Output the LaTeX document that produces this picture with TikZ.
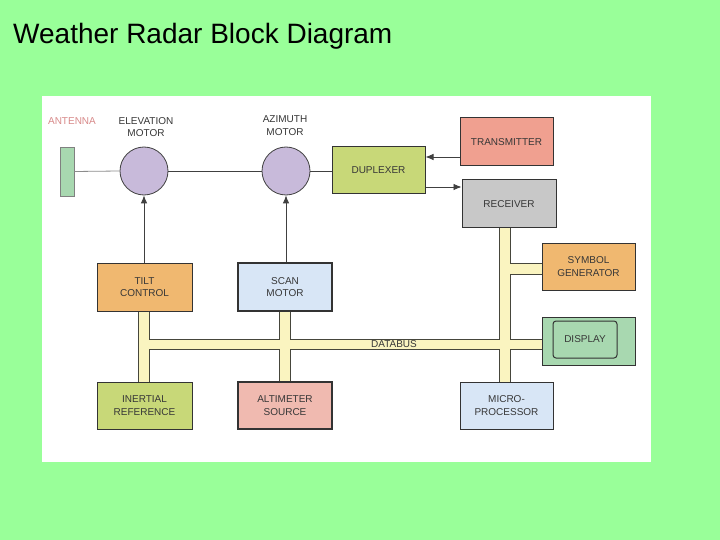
\documentclass[tikz,border=0pt]{standalone}
\usepackage{fontspec}
\setmainfont{Liberation Sans}
\usetikzlibrary{arrows.meta}
\definecolor{bggreen}{RGB}{153,255,153}
\definecolor{antgreen}{RGB}{168,216,176}
\definecolor{lav}{RGB}{200,186,218}
\definecolor{ygreen}{RGB}{200,216,120}
\definecolor{salmon}{RGB}{240,160,144}
\definecolor{rgrey}{RGB}{200,200,200}
\definecolor{orng}{RGB}{240,184,112}
\definecolor{lblue}{RGB}{216,230,246}
\definecolor{pinkb}{RGB}{240,186,176}
\definecolor{busy}{RGB}{250,244,192}
\definecolor{busline}{RGB}{70,70,60}
\definecolor{txt}{RGB}{55,55,55}
\definecolor{antred}{RGB}{216,138,138}
\begin{document}
\begin{tikzpicture}[x=1pt,y=-1pt,
  box/.style={draw=black!80, line width=1pt, inner sep=0pt, align=center,
    text=txt, font=\fontsize{10}{12.5}\selectfont},
  motor/.style={circle, draw=black!75, line width=0.8pt, fill=lav, minimum size=48pt, inner sep=0pt},
  lbl/.style={align=center, text=txt, font=\fontsize{10}{12.5}\selectfont, inner sep=0pt},
  conn/.style={draw=black!75, line width=0.8pt},
  arr/.style={conn, -{Latex[length=8pt,width=6.5pt]}},
  busout/.style={draw=busline, line width=11.5pt, line cap=butt},
  busin/.style={draw=busy, line width=9.5pt, line cap=butt}]
\fill[bggreen] (0,0) rectangle (720,540);
\useasboundingbox (0,0) rectangle (720,540);
\fill[white] (42,96) rectangle (651,462);
\node[anchor=base west, inner sep=0pt, font=\fontsize{28}{33}\selectfont] (title) at (13,44) {Weather Radar Block Diagram};

% nodes
\node[box, fill=antgreen, draw=black!50, line width=0.6pt, minimum width=14pt, minimum height=49pt] (ant) at (67,171.5) {};
\node[lbl, text=antred] (antl) at (72,121) {ANTENNA};
\node[motor] (elev) at (144,171) {};
\node[lbl] (elevl) at (146,127) {ELEVATION\\MOTOR};
\node[motor] (azi) at (286,171) {};
\node[lbl] (azil) at (285,125.5) {AZIMUTH\\MOTOR};
\node[box, fill=ygreen, minimum width=93pt, minimum height=47pt] (dup) at (378.5,170.5) {DUPLEXER};
\node[box, fill=salmon, minimum width=93pt, minimum height=48pt] (xmit) at (506.5,142) {TRANSMITTER};
\node[box, fill=rgrey, minimum width=94pt, minimum height=48pt] (rcv) at (509,204) {RECEIVER};
\node[box, fill=orng, minimum width=95pt, minimum height=48pt] (tilt) at (144.5,287) {TILT\\CONTROL};
\node[box, fill=lblue, line width=1.6pt, minimum width=94pt, minimum height=48pt] (scan) at (285,287) {SCAN\\MOTOR};
\node[box, fill=orng, minimum width=93pt, minimum height=47pt] (sym) at (588.5,266.5) {SYMBOL\\GENERATOR};
\node[box, fill=antgreen, minimum width=93pt, minimum height=48pt] (disp) at (588.5,341) {};
\node[box, fill=antgreen, rounded corners=3pt, minimum width=64pt, minimum height=37pt] (dispin) at (585,339.5) {DISPLAY};
\node[box, fill=ygreen, minimum width=95pt, minimum height=47pt] (inert) at (144.5,405.5) {INERTIAL\\REFERENCE};
\node[box, fill=pinkb, line width=1.6pt, minimum width=94pt, minimum height=47pt] (alt) at (285,405.5) {ALTIMETER\\SOURCE};
\node[box, fill=lblue, minimum width=93pt, minimum height=47pt] (micro) at (506.5,405.5) {MICRO-\\PROCESSOR};

% bus coordinates
\coordinate (t1) at (144,0);
\coordinate (s1) at (285,0);
\coordinate (r1) at (505,0);
\coordinate (bl) at (144,344.5);
\coordinate (br) at (505,269);
\foreach \st in {busout,busin}{
  \draw[\st] (tilt.south -| t1) -- (inert.north -| t1);
  \draw[\st] (scan.south -| s1) -- (alt.north -| s1);
  \draw[\st] (rcv.south -| r1) -- (micro.north -| r1);
  \draw[\st] (bl) -- (bl -| disp.west);
  \draw[\st] (br) -- (br -| sym.west);
}
\node[lbl] (dbus) at (394,344.5) {DATABUS};

% connectors
\draw[conn, draw=black!45] (ant.east) -- (elev.west);
\draw[conn] (elev.east) -- (azi.west);
\draw[conn] (azi.east) -- (azi.east -| dup.west);
\coordinate (x1) at ([yshift=-15pt]xmit.west);
\draw[arr] (x1) -- (x1 -| dup.east);
\coordinate (d1) at ([yshift=-16.5pt]dup.east);
\draw[arr] (d1) -- (d1 -| rcv.west);
\draw[arr] (tilt.north -| elev.south) -- (elev.south);
\draw[arr] (scan.north -| azi.south) -- (azi.south);
\end{tikzpicture}
\end{document}
